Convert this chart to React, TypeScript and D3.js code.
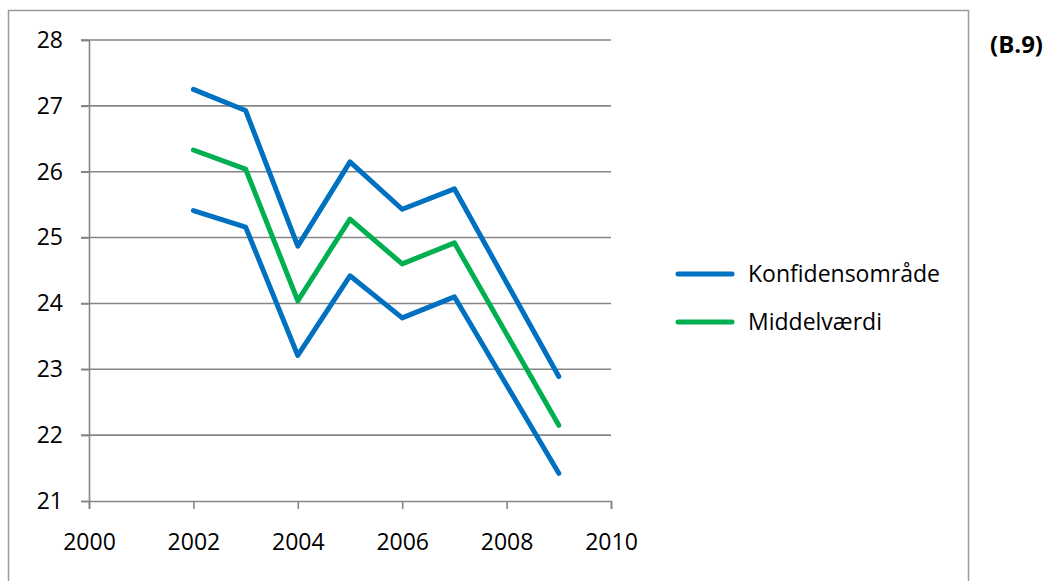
import React, { useEffect, useRef } from "react";
import * as d3 from "d3";

const years = [2002, 2003, 2004, 2005, 2006, 2007, 2009];
const upperValues = [27.25, 26.93, 24.87, 26.15, 25.43, 25.74, 22.89];
const meanValues = [26.33, 26.04, 24.04, 25.28, 24.6, 24.92, 22.15];
const lowerValues = [25.41, 25.16, 23.21, 24.42, 23.78, 24.1, 21.42];
const xTicks = [2000, 2002, 2004, 2006, 2008, 2010];
const yTicks = [21, 22, 23, 24, 25, 26, 27, 28];
const legendLabels = ["Konfidensområde", "Middelværdi"];

const BLUE = "#0070C0";
const GREEN = "#00B050";
const GRID = "#868686";
const FONT = "'Open Sans', sans-serif";

export default function App() {
  const ref = useRef<SVGSVGElement>(null);

  useEffect(() => {
    const svg = d3.select(ref.current);
    svg.selectAll("*").remove();

    const x = d3.scaleLinear().domain([2000, 2010]).range([89, 611]);
    const y = d3.scaleLinear().domain([21, 28]).range([501, 40]);

    // outer chart frame
    svg
      .append("rect")
      .attr("x", 8.5)
      .attr("y", 10.5)
      .attr("width", 960)
      .attr("height", 600)
      .attr("fill", "none")
      .attr("stroke", "#9a9a9a")
      .attr("stroke-width", 1.5);

    // gridlines
    svg
      .append("g")
      .selectAll("line")
      .data(yTicks.slice(1))
      .enter()
      .append("line")
      .attr("x1", 81)
      .attr("x2", x(2010))
      .attr("y1", (d) => y(d))
      .attr("y2", (d) => y(d))
      .attr("stroke", GRID)
      .attr("stroke-width", 1.6);

    const yAxis = svg
      .append("g")
      .attr("transform", `translate(${x(2000)},0)`)
      .call(d3.axisLeft(y).tickValues(yTicks).tickSize(8).tickPadding(18).tickFormat(d3.format("d")));
    yAxis.select(".domain").attr("stroke", GRID).attr("stroke-width", 1.6);
    yAxis.selectAll(".tick line").attr("stroke", GRID).attr("stroke-width", 1.6);
    yAxis
      .selectAll(".tick text")
      .attr("font-family", FONT)
      .attr("font-size", 23)
      .attr("fill", "#000");

    const xAxis = svg
      .append("g")
      .attr("transform", `translate(0,${y(21)})`)
      .call(d3.axisBottom(x).tickValues(xTicks).tickSize(8).tickPadding(25).tickFormat(d3.format("d")));
    xAxis.select(".domain").attr("stroke", GRID).attr("stroke-width", 1.6);
    xAxis.selectAll(".tick line").attr("stroke", GRID).attr("stroke-width", 1.6);
    xAxis
      .selectAll(".tick text")
      .attr("font-family", FONT)
      .attr("font-size", 23)
      .attr("fill", "#000");

    const line = d3
      .line<number>()
      .x((_, i) => x(years[i]))
      .y((d) => y(d));

    const series = [
      { values: upperValues, color: BLUE },
      { values: lowerValues, color: BLUE },
      { values: meanValues, color: GREEN },
    ];
    svg
      .append("g")
      .selectAll("path")
      .data(series)
      .enter()
      .append("path")
      .attr("d", (d) => line(d.values))
      .attr("fill", "none")
      .attr("stroke", (d) => d.color)
      .attr("stroke-width", 5)
      .attr("stroke-linecap", "round")
      .attr("stroke-linejoin", "round");

    // legend
    const legend = svg
      .append("g")
      .selectAll("g")
      .data(legendLabels)
      .enter()
      .append("g")
      .attr("transform", (_, i) => `translate(678,${274 + i * 48})`);
    legend
      .append("line")
      .attr("x1", 0)
      .attr("x2", 54)
      .attr("stroke", (_, i) => (i === 0 ? BLUE : GREEN))
      .attr("stroke-width", 5)
      .attr("stroke-linecap", "round");
    legend
      .append("text")
      .attr("x", 70)
      .attr("dy", "0.35em")
      .attr("font-family", FONT)
      .attr("font-size", 23)
      .attr("fill", "#000")
      .text((d) => d);

    svg
      .append("text")
      .attr("x", 1043)
      .attr("y", 45)
      .attr("dy", "0.35em")
      .attr("text-anchor", "end")
      .attr("font-family", FONT)
      .attr("font-weight", "bold")
      .attr("font-size", 24)
      .attr("fill", "#000")
      .text("(B.9)");
  }, []);

  return (
    <svg
      ref={ref}
      width={1050}
      height={581}
      style={{ position: "absolute", left: 0, top: 0, background: "#fff" }}
    />
  );
}
